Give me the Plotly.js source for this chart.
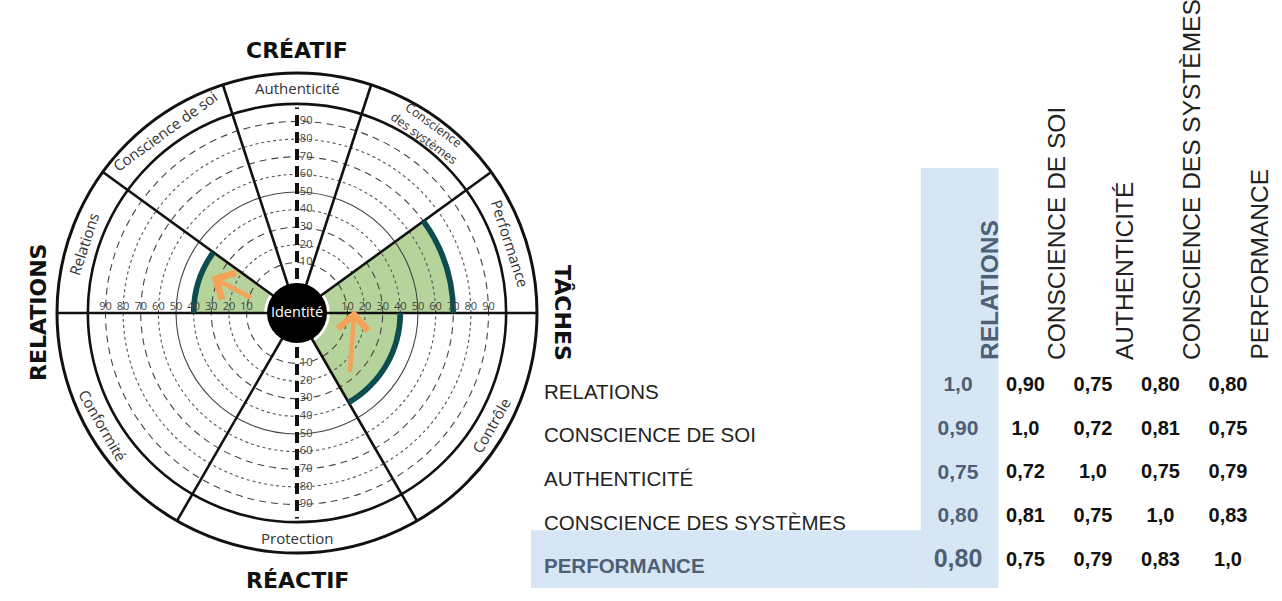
<!DOCTYPE html>
<html>
<head>
<meta charset="utf-8">
<script src="https://cdn.plot.ly/plotly-3.0.1.min.js"></script>
<style>
  html, body { margin: 0; padding: 0; background: #fff; }
  #chart { width: 1282px; height: 601px; }
</style>
</head>
<body>
<div id="chart"></div>
<script>
// wheel sectors, counter-clockwise from 3 o'clock
const sectorNames = ['Performance', 'Conscience<br>des systèmes', 'Authenticité', 'Conscience de soi', 'Relations', 'Conformité', 'Protection', 'Contrôle'];
const sectorStart = [0, 36, 72, 108, 144, 180, 240, 300];
const sectorWidth = [36, 36, 36, 36, 36, 60, 60, 60];
const sectorScore = [70, null, null, null, 40, null, null, 40];

const poleNames = ['TÂCHES', 'CRÉATIF', 'RELATIONS', 'RÉACTIF'];
const poleAngles = [0, 90, 180, 270];
const poleTextAngle = [90, 0, -90, 0];
const polePx = [266, 263, 259, 267];

const scaleTicks = [10, 20, 30, 40, 50, 60, 70, 80, 90];
const dottedRings = [20, 40, 60, 80];
const dashedRings = [10, 30, 70, 90];
const solidRings = [50];

// hand drawn arrows: [score, angle]
const arrowTip = [[34, 157], [14, 3]];
const arrowTail = [[8, 162], [27, 311]];

// correlation table
const traits = ['RELATIONS', 'CONSCIENCE DE SOI', 'AUTHENTICITÉ', 'CONSCIENCE DES SYSTÈMES', 'PERFORMANCE'];
const corr = [
  [1.0, 0.90, 0.75, 0.80, 0.80],
  [0.90, 1.0, 0.72, 0.81, 0.75],
  [0.75, 0.72, 1.0, 0.75, 0.79],
  [0.80, 0.81, 0.75, 1.0, 0.83],
  [0.80, 0.75, 0.79, 0.83, 1.0]
];

const W = 1282, H = 601;
const R_MIN = -18.6, R_MAX = 117.5, RING_OUT = 100;
const WHEEL_R = 240, CX = 297, CY = 313;
const wheelDomain = { x: [(CX - WHEEL_R) / W, (CX + WHEEL_R) / W], y: [(H - CY - WHEEL_R) / H, (H - CY + WHEEL_R) / H] };
const SLATE = '#4d6075';
const WHEEL_FONT = 'Open Sans, Noto Sans, sans-serif';
const TABLE_FONT = 'Liberation Sans, Arial, sans-serif';

const mid = sectorStart.map((s, i) => s + sectorWidth[i] / 2);
const rPx = v => (v - R_MIN) * WHEEL_R / (R_MAX - R_MIN);
const toXY = (v, deg) => {
  const r = rPx(v), a = deg * Math.PI / 180;
  return [r * Math.cos(a), r * Math.sin(a)];
};
const fmt = v => v === 1 ? '1,0' : v.toFixed(2).replace('.', ',');

function ringPolar(rings, dash, color, width) {
  return {
    domain: wheelDomain,
    bgcolor: 'rgba(0,0,0,0)',
    radialaxis: {
      range: [R_MIN, R_MAX], tickvals: rings, showticklabels: false, ticks: '',
      showline: false, showgrid: true, gridcolor: color, gridwidth: width, griddash: dash
    },
    angularaxis: {
      rotation: 0, direction: 'counterclockwise',
      showgrid: false, showline: false, showticklabels: false, ticks: ''
    }
  };
}

const traces = [];

// green score sectors
const scored = sectorScore.map((s, i) => i).filter(i => sectorScore[i] != null);
traces.push({
  type: 'barpolar', subplot: 'polar',
  r: scored.map(i => sectorScore[i]),
  base: 0,
  theta: scored.map(i => mid[i]),
  width: scored.map(i => sectorWidth[i]),
  marker: { color: '#b6d39b', line: { width: 0 } },
  hoverinfo: 'skip'
});

// ring-only subplots need a trace to be drawn
['polar2', 'polar3', 'polar4'].forEach(sp => {
  traces.push({ type: 'scatterpolar', subplot: sp, mode: 'markers', r: [R_MIN], theta: [0],
    marker: { size: 1, opacity: 0 }, hoverinfo: 'skip' });
});

// dark edge on each score
traces.push({
  type: 'barpolar', subplot: 'polar5',
  r: scored.map(() => 3.2),
  base: scored.map(i => sectorScore[i] - 1.6),
  theta: scored.map(i => mid[i]),
  width: scored.map(i => sectorWidth[i]),
  marker: { color: '#0d4d4f', line: { width: 0 } },
  hoverinfo: 'skip'
});

// vertical scale line
[90, 270].forEach(t => {
  traces.push({
    type: 'scatterpolar', subplot: 'polar5', mode: 'lines',
    r: [R_MIN, 98], theta: [t, t],
    line: { color: '#111', width: 4, dash: '11px,6px' },
    hoverinfo: 'skip'
  });
});

// scale labels
[[90, 'middle right', '\u00a0'], [270, 'middle right', '\u00a0'], [0, 'top center', ''], [180, 'top center', '']].forEach(([t, pos, pad]) => {
  traces.push({
    type: 'scatterpolar', subplot: 'polar5', mode: 'text',
    r: scaleTicks, theta: scaleTicks.map(() => t),
    text: scaleTicks.map(v => pad + v), textposition: pos,
    textfont: { family: WHEEL_FONT, size: 11, color: '#444' },
    hoverinfo: 'skip'
  });
});

// Identité core
traces.push({
  type: 'scatterpolar', subplot: 'polar5', mode: 'markers+text',
  r: [R_MIN], theta: [0], text: ['Identité'], textposition: 'middle center',
  marker: { size: 60, color: '#000' },
  textfont: { family: WHEEL_FONT, size: 14.5, color: '#fff' },
  hoverinfo: 'skip'
});

// table values
const vx = [], vy = [], vt = [], vc = [], vs = [];
corr.forEach((row, i) => row.forEach((v, j) => {
  vx.push(j); vy.push(i); vt.push(fmt(v));
  vc.push(j === 0 ? SLATE : '#111');
  vs.push(j === 0 ? (i === traits.length - 1 ? 25 : 21) : 20);
}));
traces.push({
  type: 'scatter', xaxis: 'x', yaxis: 'y', mode: 'text',
  x: vx, y: vy, text: vt, textposition: 'middle center',
  textfont: { family: TABLE_FONT, weight: 'bold', size: vs, color: vc },
  hoverinfo: 'skip', showlegend: false
});

// table geometry
const colPx = 67.5, rowPx = 43.7, col0Px = 958, row0Px = 386;
const labelX = (542 - col0Px) / colPx;
const headerY = (362 - row0Px) / rowPx;
const last = traits.length - 1;

const annotations = [];

traits.forEach((name, i) => {
  annotations.push({
    xref: 'x', yref: 'y', x: labelX, y: i, xanchor: 'left', yshift: -5,
    text: i === last ? '<b>' + name + '</b>' : name, showarrow: false,
    font: { family: TABLE_FONT, size: 20.5, color: i === last ? SLATE : '#222' }
  });
  annotations.push({
    xref: 'x', yref: 'y', x: i, y: headerY, xshift: 31, yanchor: 'bottom', textangle: -90,
    text: i === 0 ? '<b>' + name + '</b>' : name, showarrow: false,
    font: { family: TABLE_FONT, size: 24.5, color: i === 0 ? SLATE : '#222' }
  });
});

// sector names in the outer band
const bandV = (RING_OUT + R_MAX) / 2;
sectorNames.forEach((name, i) => {
  const [x, y] = toXY(bandV, mid[i]);
  const angle = mid[i] <= 180 ? 90 - mid[i] : 270 - mid[i];
  const twoLines = name.includes('<br>');
  annotations.push({
    xref: 'x2', yref: 'y2', x: x, y: y, textangle: angle, showarrow: false,
    text: name,
    font: { family: WHEEL_FONT, size: twoLines ? 12.5 : 15, color: '#333' }
  });
});

// poles
poleNames.forEach((name, i) => {
  const a = poleAngles[i] * Math.PI / 180;
  annotations.push({
    xref: 'x2', yref: 'y2', x: polePx[i] * Math.cos(a), y: polePx[i] * Math.sin(a),
    textangle: poleTextAngle[i], showarrow: false,
    text: '<b>' + name + '</b>',
    font: { family: 'DejaVu Sans, sans-serif', size: 22, color: '#111' }
  });
});

// orange arrows
arrowTip.forEach((tip, i) => {
  const [x, y] = toXY(tip[0], tip[1]);
  const [ax, ay] = toXY(arrowTail[i][0], arrowTail[i][1]);
  annotations.push({
    xref: 'x2', yref: 'y2', axref: 'x2', ayref: 'y2',
    x: x, y: y, ax: ax, ay: ay, text: '', showarrow: true,
    arrowhead: 4, arrowsize: 1.3, arrowwidth: 4.5, arrowcolor: '#f5a25a'
  });
});

const layout = {
  width: W, height: H,
  margin: { l: 0, r: 0, t: 0, b: 0 },
  paper_bgcolor: '#fff',
  plot_bgcolor: 'rgba(0,0,0,0)',
  showlegend: false,
  dragmode: false,
  hovermode: false,
  xaxis: { domain: [0, 1], range: [-col0Px / colPx, (W - col0Px) / colPx], visible: false, fixedrange: true },
  yaxis: { domain: [0, 1], range: [(H - row0Px) / rowPx, -row0Px / rowPx], visible: false, fixedrange: true },
  // pixel frame centred on the wheel, for labels and arrows
  xaxis2: { domain: [0, 1], range: [-CX, W - CX], anchor: 'y2', visible: false, fixedrange: true },
  yaxis2: { domain: [0, 1], range: [CY - H, CY], anchor: 'x2', visible: false, fixedrange: true },
  polar: {
    domain: wheelDomain,
    bgcolor: '#fff',
    radialaxis: { range: [R_MIN, R_MAX], visible: false },
    angularaxis: { rotation: 0, direction: 'counterclockwise', visible: false }
  },
  polar2: ringPolar(dottedRings, 'dot', '#555', 1.1),
  polar3: ringPolar(dashedRings, '7px,5px', '#444', 1.1),
  polar4: ringPolar(solidRings, 'solid', '#444', 1.1),
  polar5: {
    domain: wheelDomain,
    bgcolor: 'rgba(0,0,0,0)',
    radialaxis: {
      range: [R_MIN, R_MAX], tickvals: [RING_OUT], showticklabels: false, ticks: '',
      showline: false, gridcolor: '#111', gridwidth: 2.6
    },
    angularaxis: {
      rotation: 0, direction: 'counterclockwise', tickvals: sectorStart,
      showticklabels: false, ticks: '', gridcolor: '#111', gridwidth: 2.6,
      showline: true, linecolor: '#111', linewidth: 3
    }
  },
  shapes: [
    { type: 'rect', xref: 'x', yref: 'y', layer: 'below', x0: -0.55, x1: 0.6, y0: -4.99, y1: last + 0.62,
      fillcolor: '#d6e6f5', line: { width: 0 } },
    { type: 'rect', xref: 'x', yref: 'y', layer: 'below', x0: (531 - col0Px) / colPx, x1: -0.55, y0: last - 0.7, y1: last + 0.62,
      fillcolor: '#d6e6f5', line: { width: 0 } }
  ],
  annotations: annotations
};

Plotly.newPlot('chart', traces, layout, { displayModeBar: false, staticPlot: true });
</script>
</body>
</html>
